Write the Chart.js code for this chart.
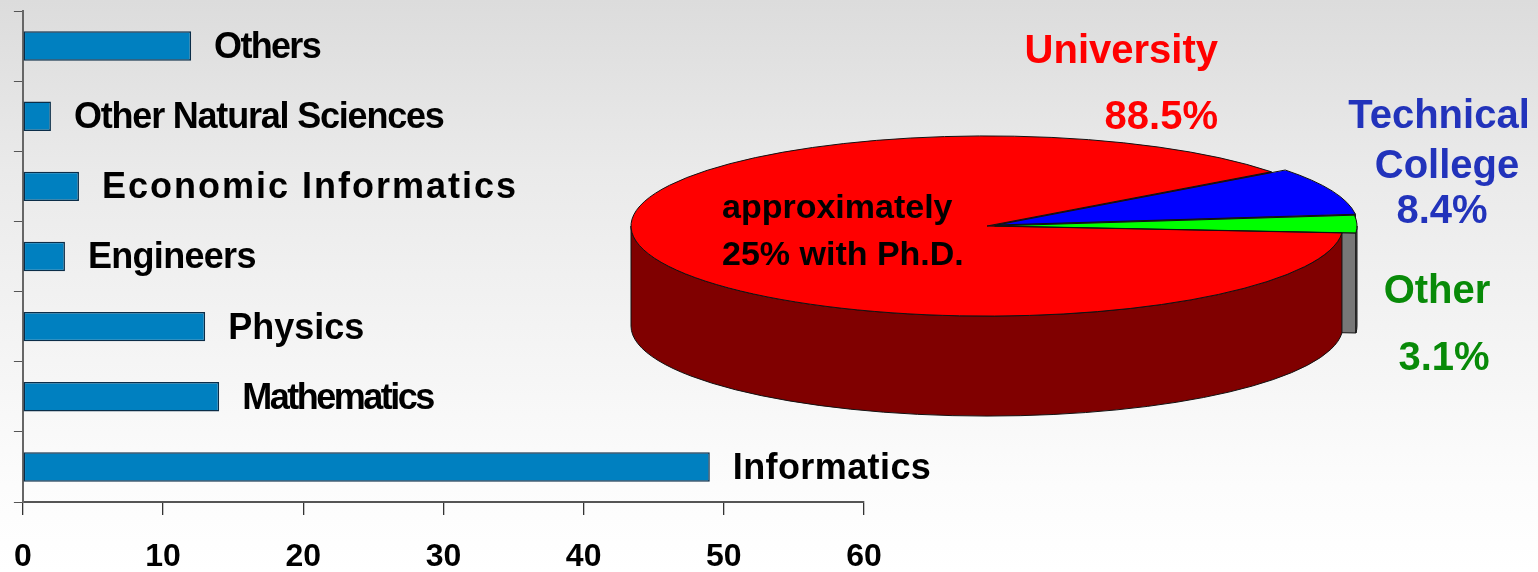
<!DOCTYPE html>
<html>
<head>
<meta charset="utf-8">
<script src="https://cdn.jsdelivr.net/npm/chart.js@4.4.1/dist/chart.umd.min.js"></script>
<style>
  html, body { margin: 0; padding: 0; }
  body {
    width: 1538px; height: 572px; overflow: hidden; position: relative;
    background: linear-gradient(to bottom, #dcdcdc 0%, #eaeaea 30%, #f4f4f4 60%, #fcfcfc 85%, #ffffff 100%);
  }
  canvas { position: absolute; left: 0; top: 0; }
  #barChart { left: -9px; }
</style>
</head>
<body>
<canvas id="barChart" width="1538" height="572"></canvas>
<canvas id="pieChart" width="1538" height="572"></canvas>
<script>
// bar chart data
const fields = ['Others', 'Other Natural Sciences', 'Economic Informatics', 'Engineers', 'Physics', 'Mathematics', 'Informatics'];
const counts = [12, 2, 4, 3, 13, 14, 49];
const xTicks = [0, 10, 20, 30, 40, 50, 60];

// pie chart data
const pieLabels = ['University', 'Technical College', 'Other'];
const pieShares = [88.5, 8.4, 3.1];
const pieNote = ['approximately', '25% with Ph.D.'];

const FONT = '"Liberation Sans", Arial, sans-serif';
const labelSpacing = [-1.7, -1.2, 2, -0.7, 0, -2.5, 0.4];

const barLabels = {
    id: 'barLabels',
    afterDatasetsDraw(chart) {
        const ctx = chart.ctx;
        const meta = chart.getDatasetMeta(0);
        ctx.save();
        ctx.fillStyle = '#000';
        ctx.font = 'bold 36px ' + FONT;
        ctx.textBaseline = 'middle';
        meta.data.forEach((bar, i) => {
            ctx.letterSpacing = labelSpacing[i] + 'px';
            ctx.fillText(fields[i], bar.x + 23, bar.y + 2);
        });
        ctx.letterSpacing = '0px';
        ctx.restore();
    }
};

new Chart(document.getElementById('barChart'), {
    type: 'bar',
    data: {
        labels: fields,
        datasets: [{
            data: counts,
            backgroundColor: '#0080C0',
            borderColor: '#0B2D48',
            borderWidth: 1.5,
            borderSkipped: false,
            barPercentage: 0.42,
            categoryPercentage: 1
        }]
    },
    options: {
        indexAxis: 'y',
        responsive: false,
        animation: false,
        events: [],
        layout: { padding: { left: 0, top: 11, right: 665, bottom: 0 } },
        plugins: { legend: { display: false }, tooltip: { enabled: false } },
        scales: {
            x: {
                min: xTicks[0],
                max: xTicks[xTicks.length - 1],
                afterFit: (s) => { s.height = 70; },
                grid: { drawOnChartArea: false, tickLength: 13, color: '#333', lineWidth: 1.3 },
                border: { color: '#555', width: 2 },
                ticks: {
                    stepSize: xTicks[1] - xTicks[0],
                    color: '#000',
                    padding: 23,
                    maxRotation: 0,
                    font: { family: FONT, size: 32, weight: 'bold' }
                }
            },
            y: {
                afterFit: (s) => { s.width = 22; },
                grid: { drawOnChartArea: false, tickLength: 9, color: '#555', offset: true },
                border: { color: '#666', width: 2 },
                ticks: { display: false }
            }
        }
    },
    plugins: [barLabels]
});

// pseudo 3D pie
const SQUASH = 0.253;
const DEPTH = 100;
const topColors = ['#FF0000', '#0000FF', '#00FF00'];
const sideColors = ['#800000', '#666666', '#777777'];

// same placement Chart.js uses for an offset arc
function arcGeom(arc) {
    const off = (arc.options.offset || 0) / 4;
    const half = (arc.startAngle + arc.endAngle) / 2;
    const fix = 1 - Math.sin(Math.min(Math.PI, arc.endAngle - arc.startAngle));
    return {
        cx: arc.x + Math.cos(half) * off,
        cy: arc.y + Math.sin(half) * off * SQUASH,
        r: arc.outerRadius + off * fix
    };
}

const pie3d = {
    id: 'pie3d',
    beforeDatasetsDraw(chart) {
        const ctx = chart.ctx;
        const arcs = chart.getDatasetMeta(0).data;
        ctx.save();
        ctx.lineWidth = 1;
        ctx.strokeStyle = '#111';
        // cut faces that look to the front, back ones first
        arcs.map((arc, i) => ({ arc, i, a: arc.endAngle }))
            .filter(f => Math.cos(f.a) > 0)
            .sort((p, q) => Math.sin(p.a) - Math.sin(q.a))
            .forEach(f => {
                const g = arcGeom(f.arc);
                const px = g.cx + g.r * Math.cos(f.a);
                const py = g.cy + g.r * SQUASH * Math.sin(f.a);
                ctx.beginPath();
                ctx.moveTo(g.cx, g.cy);
                ctx.lineTo(px, py);
                ctx.lineTo(px, py + DEPTH);
                ctx.lineTo(g.cx, g.cy + DEPTH);
                ctx.closePath();
                ctx.fillStyle = sideColors[f.i];
                ctx.fill();
                ctx.stroke();
            });
        // outer walls, front half only
        arcs.forEach((arc, i) => {
            const g = arcGeom(arc);
            for (let k = 0; k < 2; k++) {
                const a0 = Math.max(arc.startAngle, k * 2 * Math.PI);
                const a1 = Math.min(arc.endAngle, k * 2 * Math.PI + Math.PI);
                if (a1 <= a0) continue;
                ctx.beginPath();
                ctx.ellipse(g.cx, g.cy, g.r, g.r * SQUASH, 0, a0, a1);
                ctx.ellipse(g.cx, g.cy + DEPTH, g.r, g.r * SQUASH, 0, a1, a0, true);
                ctx.closePath();
                ctx.fillStyle = sideColors[i];
                ctx.fill();
                ctx.stroke();
            }
        });
        ctx.restore();
        const c = arcs[0];
        ctx.save();
        ctx.translate(c.x, c.y);
        ctx.scale(1, SQUASH);
        ctx.translate(-c.x, -c.y);
    },
    afterDatasetsDraw(chart) {
        const ctx = chart.ctx;
        ctx.restore();
        const arcs = chart.getDatasetMeta(0).data;
        ctx.save();
        ctx.lineWidth = 1;
        ctx.strokeStyle = '#111';
        arcs.forEach(arc => {
            const g = arcGeom(arc);
            ctx.beginPath();
            ctx.moveTo(g.cx, g.cy);
            ctx.ellipse(g.cx, g.cy, g.r, g.r * SQUASH, 0, arc.startAngle, arc.endAngle);
            ctx.closePath();
            ctx.stroke();
        });

        const pct = (v) => v.toFixed(1) + '%';
        ctx.font = 'bold 40px ' + FONT;
        ctx.textBaseline = 'alphabetic';

        ctx.fillStyle = '#FF0000';
        ctx.textAlign = 'right';
        ctx.fillText(pieLabels[0], 1218, 63);
        ctx.fillText(pct(pieShares[0]), 1218, 129);

        ctx.fillStyle = '#2233BB';
        ctx.textAlign = 'center';
        const tech = pieLabels[1].split(' ');
        ctx.fillText(tech[0], 1439, 128);
        ctx.fillText(tech[1], 1447, 178);
        ctx.fillText(pct(pieShares[1]), 1442, 223);

        ctx.fillStyle = '#088A08';
        ctx.fillText(pieLabels[2], 1437, 303);
        ctx.fillText(pct(pieShares[2]), 1444, 370);

        ctx.fillStyle = '#000';
        ctx.textAlign = 'left';
        ctx.font = 'bold 34px ' + FONT;
        ctx.fillText(pieNote[0], 722, 218);
        ctx.fillText(pieNote[1], 722, 265);
        ctx.restore();
    }
};

new Chart(document.getElementById('pieChart'), {
    type: 'pie',
    data: {
        labels: pieLabels,
        datasets: [{
            data: pieShares,
            backgroundColor: topColors,
            borderWidth: 0,
            offset: [0, 42, 31],
            hoverOffset: 0,
            radius: 356,
            clip: false
        }]
    },
    options: {
        responsive: false,
        animation: false,
        events: [],
        rotation: 94.4,
        layout: { padding: { left: 436, right: 0, top: 0, bottom: 120 } },
        plugins: { legend: { display: false }, tooltip: { enabled: false } }
    },
    plugins: [pie3d]
});
</script>
</body>
</html>
